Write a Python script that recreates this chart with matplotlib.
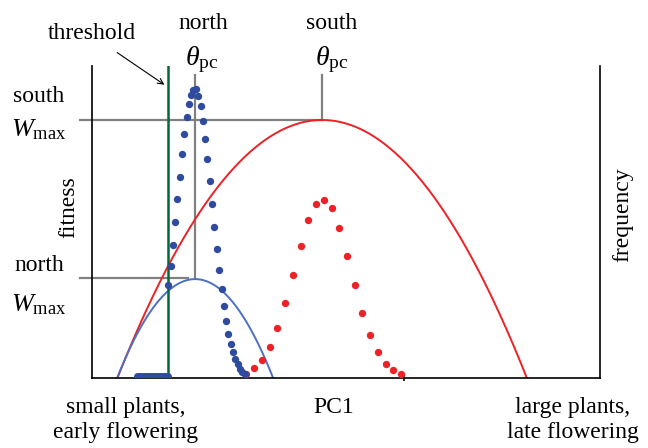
import numpy as np
import matplotlib
matplotlib.use('Agg')
import matplotlib.pyplot as plt

plt.rcParams['font.family'] = ['Liberation Serif', 'DejaVu Serif']
plt.rcParams['mathtext.fontset'] = 'custom'
plt.rcParams['mathtext.rm'] = 'Liberation Serif'
plt.rcParams['mathtext.it'] = 'Liberation Serif:italic'

# fitness functions (PC1 units 0-10, fitness 0-1)
south_theta, south_wmax, south_half = 4.53, 0.827, 4.03
north_theta, north_wmax, north_half = 2.03, 0.317, 1.535
threshold = 1.496

# frequency distributions
south_x = [3.03, 3.19, 3.35, 3.50, 3.64, 3.80, 3.96, 4.11, 4.25, 4.41, 4.57,
           4.72, 4.86, 5.02, 5.18, 5.31, 5.47, 5.63, 5.79, 5.93, 6.08]
south_f = [0.013, 0.032, 0.058, 0.099, 0.160, 0.240, 0.330, 0.423, 0.506, 0.558, 0.571,
           0.545, 0.481, 0.391, 0.298, 0.208, 0.138, 0.083, 0.045, 0.026, 0.013]
north_x = [1.496, 1.555, 1.594, 1.634, 1.673, 1.732, 1.772, 1.811, 1.870, 1.909, 1.949,
           1.988, 2.047, 2.087, 2.146, 2.185, 2.224, 2.264, 2.323, 2.362, 2.402, 2.461,
           2.500, 2.559, 2.598, 2.638, 2.677, 2.736, 2.776, 2.815, 2.874, 2.913, 2.953, 3.012]
north_f = [0.298, 0.359, 0.426, 0.500, 0.574, 0.644, 0.718, 0.782, 0.837, 0.878, 0.907,
           0.923, 0.926, 0.904, 0.872, 0.824, 0.766, 0.702, 0.631, 0.558, 0.484, 0.413,
           0.346, 0.285, 0.231, 0.183, 0.141, 0.109, 0.083, 0.061, 0.045, 0.029, 0.019, 0.013]
# left tail piled up below the threshold
pile_x = [0.886, 1.496]
pile_f = [0.006, 0.006]

red = '#ec2227'
blue_dot = '#2f4b9f'
blue_line = '#4d70c0'
green = '#00693a'
grey = '#808080'

fig = plt.figure(figsize=(6.48, 4.48), dpi=100)
ax = fig.add_axes([92 / 648, 70 / 448, 508 / 648, 312 / 448])
ax2 = ax.twinx()
for a in (ax, ax2):
    a.set_xlim(0, 10)
    a.set_ylim(0, 1)
    a.set_xticks([])
    a.set_yticks([])
    a.spines['top'].set_visible(False)
    a.patch.set_visible(False)
ax.spines['right'].set_visible(False)
ax2.spines['left'].set_visible(False)
ax2.spines['bottom'].set_visible(False)
for s in (ax.spines['left'], ax.spines['bottom'], ax2.spines['right']):
    s.set_linewidth(1.2)
    s.set_color('black')

# fitness curves
xs = np.linspace(south_theta - south_half, south_theta + south_half, 300)
ax.plot(xs, south_wmax * (1 - ((xs - south_theta) / south_half) ** 2), color=red, lw=1.4)
xn = np.linspace(north_theta - north_half, north_theta + north_half, 200)
ax.plot(xn, north_wmax * (1 - ((xn - north_theta) / north_half) ** 2), color=blue_line, lw=1.4)

# guide lines
ax.plot([-0.236, south_theta], [south_wmax, south_wmax], color=grey, lw=1.6, clip_on=False, zorder=1)
ax.plot([south_theta, south_theta], [south_wmax, 0.971], color=grey, lw=1.6, zorder=1)
ax.plot([-0.236, 1.89], [0.321, 0.321], color=grey, lw=1.6, clip_on=False, zorder=1)
ax.plot([north_theta, north_theta], [0.321, 0.971], color=grey, lw=1.6, zorder=1)

ax.plot([threshold, threshold], [0, 1], color=green, lw=1.8, zorder=3)

# frequency dots
ax2.scatter(south_x, south_f, s=28, color=red, zorder=4, clip_on=False, linewidths=0)
ax2.scatter(north_x, north_f, s=28, color=blue_dot, zorder=4, clip_on=False, linewidths=0)
ax2.plot(pile_x, pile_f, color=blue_dot, lw=5, solid_capstyle='round', zorder=4)
ax2.plot([6.14], [0], marker='|', color='black', ms=4, mew=1.2, clip_on=False)

fs = 17
ax.text(0.0, 1.103, 'threshold', ha='center', va='center', fontsize=fs)
ax.annotate('', xy=(1.47, 0.935), xytext=(0.45, 1.048), annotation_clip=False,
            arrowprops=dict(arrowstyle='->', color='black', lw=0.8))
ax.text(2.185, 1.135, 'north', ha='center', va='center', fontsize=fs)
ax.text(2.165, 1.020, r'$\theta_{\mathrm{pc}}$', ha='center', va='center', fontsize=20)
ax.text(4.724, 1.135, 'south', ha='center', va='center', fontsize=fs)
ax.text(4.724, 1.020, r'$\theta_{\mathrm{pc}}$', ha='center', va='center', fontsize=20)
ax.text(-1.043, 0.901, 'south', ha='center', va='center', fontsize=fs)
ax.text(-1.043, 0.797, r'$W_{\mathrm{max}}$', ha='center', va='center', fontsize=19)
ax.text(-1.043, 0.362, 'north', ha='center', va='center', fontsize=fs)
ax.text(-1.043, 0.236, r'$W_{\mathrm{max}}$', ha='center', va='center', fontsize=19)
ax.text(-0.45, 0.548, 'fitness', ha='center', va='center', rotation=90, fontsize=fs)
ax.text(10.45, 0.522, 'frequency', ha='center', va='center', rotation=90, fontsize=fs)
ax.text(0.669, -0.096, 'small plants,', ha='center', va='center', fontsize=fs)
ax.text(0.669, -0.176, 'early flowering', ha='center', va='center', fontsize=fs)
ax.text(4.764, -0.096, 'PC1', ha='center', va='center', fontsize=fs)
ax.text(9.469, -0.096, 'large plants,', ha='center', va='center', fontsize=fs)
ax.text(9.469, -0.176, 'late flowering', ha='center', va='center', fontsize=fs)

fig.savefig('out.png', dpi=100)
